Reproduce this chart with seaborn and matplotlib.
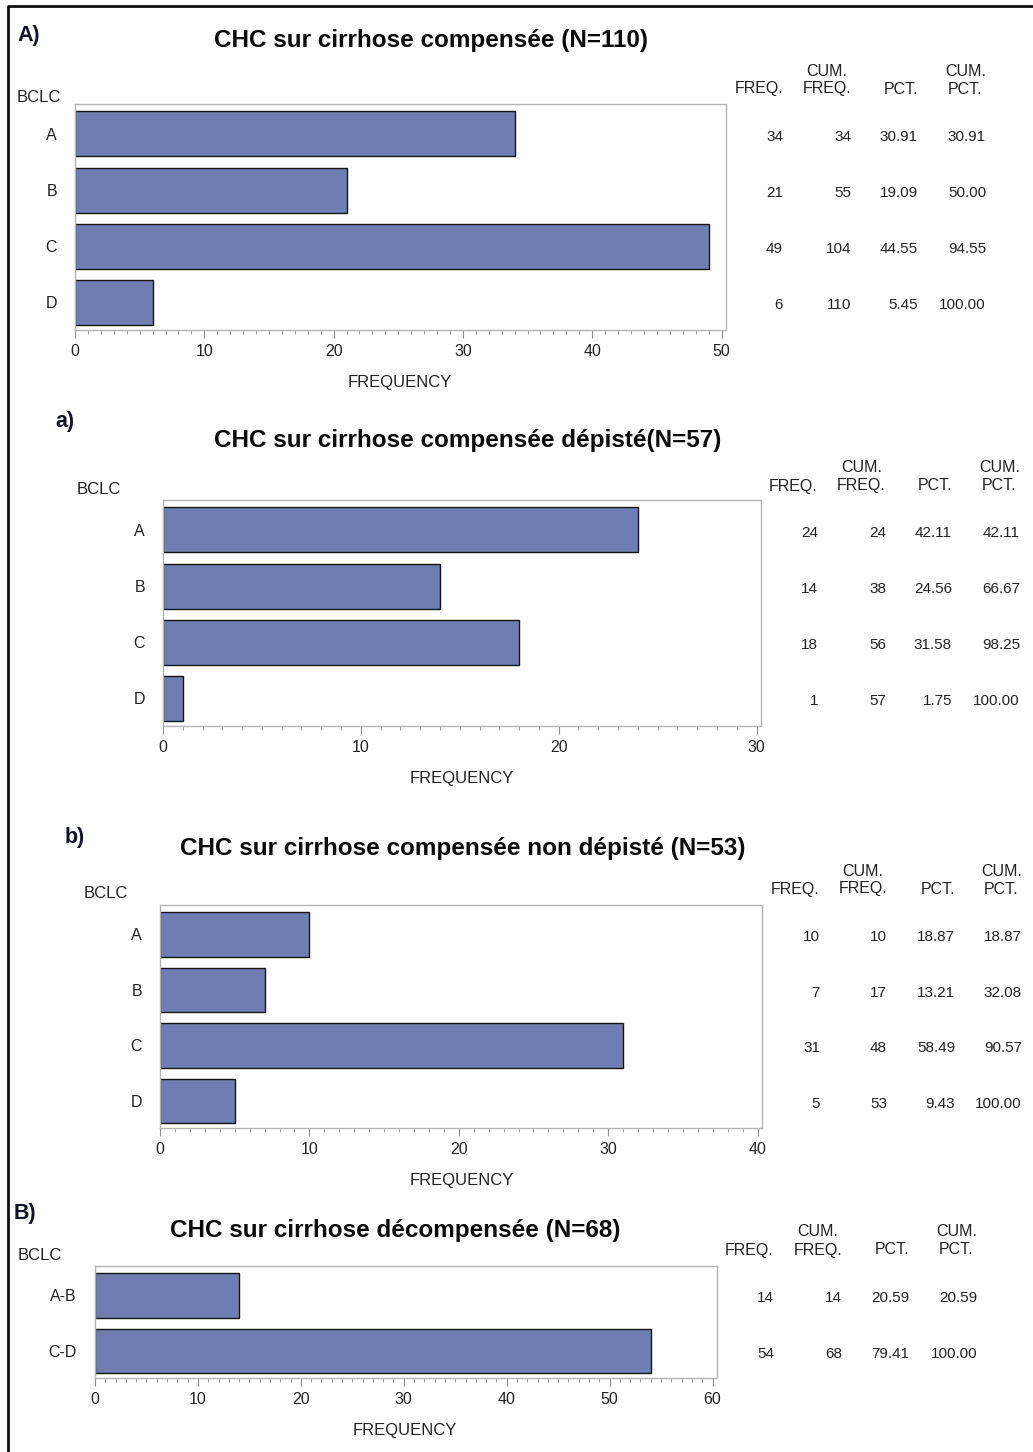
import numpy as np
import pandas as pd
import matplotlib
matplotlib.use("Agg")
import matplotlib.pyplot as plt
import matplotlib.transforms as mtransforms
from matplotlib.lines import Line2D
from matplotlib.ticker import MultipleLocator
import seaborn as sns

sns.set_theme(style="white")
plt.rcParams["font.family"] = ["Liberation Sans", "DejaVu Sans"]

# ---- data -------------------------------------------------------------
bclc_abcd = ["A", "B", "C", "D"]
bclc_grouped = ["A-B", "C-D"]

freq_compensee = [34, 21, 49, 6]
freq_depiste = [24, 14, 18, 1]
freq_non_depiste = [10, 7, 31, 5]
freq_decompensee = [14, 54]

titles = [
    "CHC sur cirrhose compensée (N=110)",
    "CHC sur cirrhose compensée dépisté(N=57)",
    "CHC sur cirrhose compensée non dépisté (N=53)",
    "CHC sur cirrhose décompensée (N=68)",
]
tags = ["A)", "a)", "b)", "B)"]
x_maxima = [50, 30, 40, 60]

# ---- layout (pixel coordinates of a 1033 x 1452 canvas) ----------------
W, H = 1033, 1452
panels = [
    dict(cats=bclc_abcd, freq=freq_compensee, rect=(75, 104, 726, 330),
         title=(431, 40), tag=(17, 36), bclc=(17, 97), xlab=(400, 383),
         cols=(783, 851, 918, 986), head=(71, 89)),
    dict(cats=bclc_abcd, freq=freq_depiste, rect=(163, 500, 761, 726),
         title=(468, 441), tag=(55, 422), bclc=(77, 490), xlab=(462, 779),
         cols=(818, 886, 952, 1020), head=(467, 486)),
    dict(cats=bclc_abcd, freq=freq_non_depiste, rect=(160, 905, 762, 1128),
         title=(463, 849), tag=(65, 838), bclc=(84, 893), xlab=(462, 1181),
         cols=(820, 887, 955, 1022), head=(871, 889)),
    dict(cats=bclc_grouped, freq=freq_decompensee, rect=(95, 1266, 717, 1378),
         title=(395, 1230), tag=(14, 1214), bclc=(18, 1255), xlab=(405, 1431),
         cols=(774, 842, 909, 977), head=(1232, 1250)),
]

BAR = "#6E7EB2"
EDGE = "#151515"
FRAME = "#b4b4b4"
TXT = "#222222"


def fx(x):
    return x / W


def fy(y):
    return 1 - y / H


fig = plt.figure(figsize=(W / 100, H / 100), dpi=100)
fig.patch.set_facecolor("white")

for p, title, tag, xmax in zip(panels, titles, tags, x_maxima):
    x0, y0, x1, y1 = p["rect"]
    ax = fig.add_axes([fx(x0), fy(y1), (x1 - x0) / W, (y1 - y0) / H])
    df = pd.DataFrame({"BCLC": p["cats"], "FREQUENCY": p["freq"]})
    sns.barplot(data=df, x="FREQUENCY", y="BCLC", orient="h", color=BAR,
                saturation=1, edgecolor=EDGE, linewidth=1.0, width=0.8, ax=ax)
    n = len(p["cats"])
    span_px = x1 - x0
    # axis extends a few pixels beyond the last labelled tick
    ax.set_xlim(0, xmax * (1 + 4.5 / (span_px - 4.5)))
    ax.set_ylim(n - 0.51, -0.53)
    ax.xaxis.set_major_locator(MultipleLocator(10))
    ax.xaxis.set_minor_locator(MultipleLocator(1))
    ax.tick_params(axis="x", which="major", bottom=True, length=6, width=0.8,
                   color="#8c8c8c", labelsize=11.5, labelcolor=TXT, pad=4)
    ax.tick_params(axis="x", which="minor", bottom=True, length=3, width=0.6,
                   color="#8c8c8c")
    ax.tick_params(axis="y", length=0, labelsize=11.5, labelcolor=TXT, pad=13)
    ax.set_xlabel("")
    ax.set_ylabel("")
    for s in ax.spines.values():
        s.set_visible(True)
        s.set_color(FRAME)
        s.set_linewidth(1.0)

    # titles and axis captions
    fig.text(fx(p["title"][0]), fy(p["title"][1]), title, ha="center",
             va="center", fontsize=17.5, fontweight="bold", color="#0a0a0a")
    fig.text(fx(p["tag"][0]), fy(p["tag"][1]), tag, ha="left", va="center",
             fontsize=15.5, fontweight="bold", color="#10122a")
    fig.text(fx(p["bclc"][0]), fy(p["bclc"][1]), "BCLC", ha="left",
             va="center", fontsize=12, color=TXT)
    fig.text(fx(p["xlab"][0]), fy(p["xlab"][1]), "FREQUENCY", ha="center",
             va="center", fontsize=12, color=TXT)

    # frequency table next to the bars
    freq = np.array(p["freq"])
    cum = np.cumsum(freq)
    total = cum[-1]
    pct = 100 * freq / total
    cum_pct = 100 * cum / total
    c1, c2, c3, c4 = p["cols"]
    h1, h2 = p["head"]
    for cx, lbl in [(c1, "FREQ."), (c3, "PCT.")]:
        fig.text(fx(cx), fy(h2), lbl, ha="right", va="center",
                 fontsize=11.5, color=TXT)
    for cx, lbl in [(c2, "CUM.\nFREQ."), (c4, "CUM.\nPCT.")]:
        fig.text(fx(cx), fy((h1 + h2) / 2), lbl, ha="right", va="center",
                 multialignment="center", fontsize=11.5, color=TXT,
                 linespacing=1.25)
    trans = mtransforms.blended_transform_factory(fig.transFigure, ax.transData)
    for i in range(n):
        row = [f"{freq[i]}", f"{cum[i]}", f"{pct[i]:.2f}", f"{cum_pct[i]:.2f}"]
        for cx, s in zip(p["cols"], row):
            fig.text(fx(cx), i + 0.05, s, ha="right", va="center",
                     fontsize=11, color=TXT, transform=trans)

# outer frame on the left and top
fig.add_artist(Line2D([fx(8), fx(8), 1.0], [0.0, fy(6), fy(6)],
                      transform=fig.transFigure, color="#111111", lw=2.0))

fig.savefig("out.png", dpi=100, facecolor="white")
